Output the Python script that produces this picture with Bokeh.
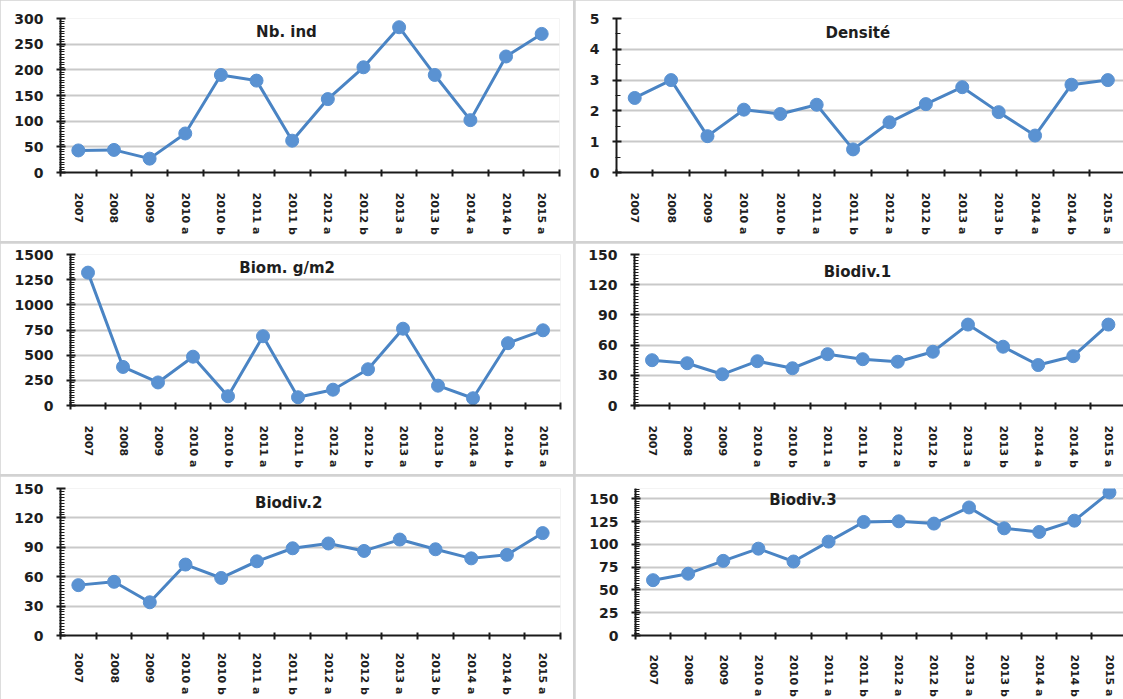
import math
import numpy as np
from bokeh.plotting import figure
from bokeh.models import Range1d, FixedTicker, Label
from bokeh.layouts import row, column
from bokeh.embed import file_html
from bokeh.resources import INLINE

periods = ["2007", "2008", "2009", "2010 a", "2010 b", "2011 a", "2011 b",
           "2012 a", "2012 b", "2013 a", "2013 b", "2014 a", "2014 b", "2015 a"]
nb_ind = [43, 44, 27, 76, 190, 179, 62, 143, 205, 283, 190, 102, 226, 270]
densite = [2.42, 3.0, 1.18, 2.04, 1.90, 2.2, 0.75, 1.63, 2.22, 2.77, 1.96, 1.2, 2.85, 3.0]
biomasse = [1320, 383, 229, 485, 92, 688, 82, 157, 360, 763, 197, 72, 619, 747]
biodiv1 = [45, 42, 31, 44, 37, 51, 46, 43.5, 53.4, 80.4, 58.4, 40.2, 49, 80.4]
biodiv2 = [51.4, 54.8, 33.9, 72.4, 58.7, 75.7, 89, 93.9, 86.3, 97.9, 88, 78.7, 82.3, 104.5]
biodiv3 = [60.7, 67.8, 81.9, 95.3, 81.2, 103, 124.6, 125.3, 122.8, 140.5, 117.6, 113.6, 126, 157]

LINE = "#4A84C4"
MARK = "#5A92D2"
FONT = "DejaVu Sans"
TXT = "#1e1e1e"
SEP = "#d2d2d2"


def panel(vals, title, w, h, bl, br, bt, bb, x_end, y_end, interval, nminor,
          tx, ty, xstand=16):
    n = len(periods)
    xs = list(range(n))
    p = figure(width=w, height=h, x_range=Range1d(-0.5, x_end),
               y_range=Range1d(0, y_end), output_backend="svg",
               toolbar_location=None, min_border_left=bl, min_border_right=br,
               min_border_top=bt, min_border_bottom=bb)
    p.outline_line_color = None
    p.background_fill_color = "white"
    p.border_fill_color = "white"
    p.xgrid.visible = False
    majors = [float(v) for v in np.arange(0, y_end + 1e-9, interval)]
    minors = [float(v) for v in np.arange(0, y_end + 1e-9, interval / nminor)]
    p.yaxis.ticker = FixedTicker(ticks=majors, minor_ticks=minors)
    p.ygrid.ticker = FixedTicker(ticks=majors)
    p.ygrid.grid_line_color = "#c9c9c9"
    p.ygrid.grid_line_width = 2

    p.xaxis.ticker = FixedTicker(ticks=xs, minor_ticks=[i - 0.5 for i in range(n + 1)])
    p.xaxis.major_label_overrides = {i: s for i, s in enumerate(periods)}
    p.xaxis.major_label_orientation = "vertical"
    p.xaxis.major_tick_in = 0
    p.xaxis.major_tick_out = 0
    p.xaxis.minor_tick_in = 3
    p.xaxis.minor_tick_out = 4
    p.xaxis.minor_tick_line_width = 2
    p.xaxis.major_label_standoff = xstand
    p.xaxis.major_label_text_font_size = "11px"

    p.yaxis.major_tick_in = 5
    p.yaxis.major_tick_out = 4
    p.yaxis.minor_tick_in = 4
    p.yaxis.minor_tick_out = 1
    p.yaxis.major_tick_line_width = 2
    p.yaxis.minor_tick_line_width = 1
    p.yaxis.major_label_standoff = 13
    p.yaxis.major_label_text_font_size = "14px"

    for ax in (p.xaxis, p.yaxis):
        ax.axis_line_color = "#1a1a1a"
        ax.axis_line_width = 2
        ax.major_tick_line_color = "#1a1a1a"
        ax.minor_tick_line_color = "#1a1a1a"
        ax.major_label_text_font = FONT
        ax.major_label_text_font_style = "bold"
        ax.major_label_text_color = TXT

    p.line(xs, vals, line_color=LINE, line_width=3)
    p.scatter(xs, vals, size=13, fill_color=MARK, line_color=MARK)
    p.add_layout(Label(x=tx, y=ty, text=title, text_align="center",
                       text_baseline="middle", text_font=FONT,
                       text_font_style="bold", text_font_size="15px",
                       text_color=TXT))
    return p


p1 = panel(nb_ind, "Nb. ind", 573, 241, 60, 14, 17, 69, 13.5, 300, 50, 10, 5.84, 274)
p2 = panel(densite, "Densité", 548, 241, 41, 0, 18, 68, 13.43, 5, 1, 2, 6.13, 4.52)
p3 = panel(biomasse, "Biom. g/m2", 573, 231, 70, 13, 11, 69, 13.5, 1500, 250, 10, 5.69, 1370)
p4 = panel(biodiv1, "Biodiv.1", 548, 231, 59, 0, 11, 68, 13.43, 150, 30, 10, 5.85, 133)
p5 = panel(biodiv2, "Biodiv.2", 573, 223, 60, 13, 12, 59, 13.5, 150, 30, 10, 5.89, 135, xstand=13)
p6 = panel(biodiv3, "Biodiv.3", 548, 223, 60, 0, 10, 61, 13.4, 161.3, 25, 10, 4.27, 149, xstand=15)

layout = column(
    row(p1, p2, spacing=2),
    row(p3, p4, spacing=2),
    row(p5, p6, spacing=2),
    spacing=2,
    styles={"background-color": SEP},
)

open("out.html", "w").write(file_html(layout, INLINE))
